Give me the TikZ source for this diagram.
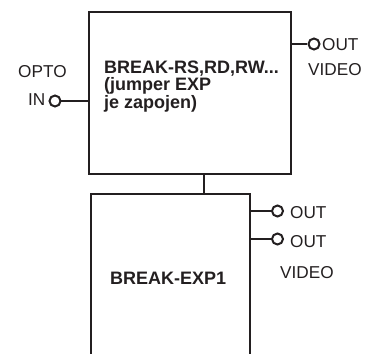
\documentclass[tikz,border=0pt]{standalone}
\usepackage{fontspec}
\setmainfont{Liberation Sans}
\definecolor{ink}{HTML}{231F20}
\begin{document}
\begin{tikzpicture}[x=1pt,y=1pt,
  box/.style={draw=ink, line width=2.2pt, rectangle, inner sep=0pt},
  port/.style={draw=ink, circle, line width=2pt, inner sep=0pt, minimum size=11pt},
  lbl/.style={font=\fontsize{17.2}{18}\selectfont, inner sep=0pt, text=ink, anchor=base west},
  blbl/.style={font=\fontsize{18}{15.3}\selectfont\bfseries, inner sep=0pt, text=ink, align=left, anchor=base west},
  wire/.style={draw=ink, line width=2pt}]
\clip (0,-354) rectangle (368,0);
% boxes
\node[box, minimum width=202pt, minimum height=162pt] (rs) at (190,-93) {};
\node[box, minimum width=159pt, minimum height=186pt] (exp) at (170.5,-287) {};
\draw[wire] ([xshift=14pt]rs.south) -- ([xshift=33.5pt]exp.north);
% box texts
\node[blbl] (rst) at (104,-108) {BREAK-RS,RD,RW...\\(jumper EXP\\je zapojen)};
\node[blbl] (expt) at (110,-284) {BREAK-EXP1};
% input
\node[port] (in) at (55,-101) {};
\draw[wire] (in.east) -- (in -| rs.west);
\node[lbl] (opto) at (18,-77.3) {OPTO};
\node[lbl] (inl) at (28,-105.7) {IN};
% top output
\node[port] (o1) at (314,-44) {};
\draw[wire] (o1 -| rs.east) -- (o1.west);
\node[lbl] (o1l) at (322,-50.5) {OUT};
\node[lbl] (v1l) at (308,-75) {VIDEO};
% bottom outputs
\node[port] (o2) at (277.5,-211) {};
\node[port] (o3) at (277.5,-239) {};
\draw[wire] (o2 -| exp.east) -- (o2.west);
\draw[wire] (o3 -| exp.east) -- (o3.west);
\node[lbl] (o2l) at (290,-218.3) {OUT};
\node[lbl] (o3l) at (290,-247.3) {OUT};
\node[lbl] (v2l) at (280,-278.3) {VIDEO};
\end{tikzpicture}
\end{document}
